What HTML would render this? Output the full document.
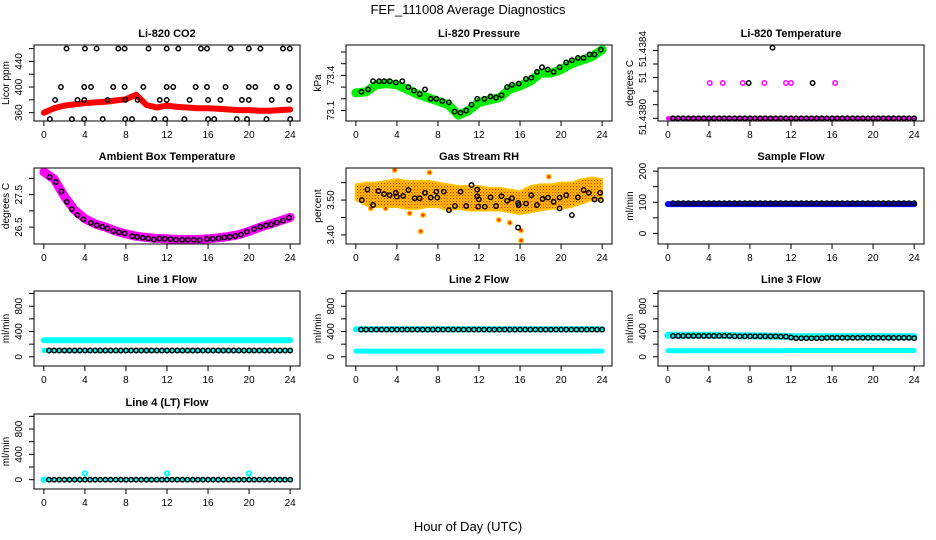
<!DOCTYPE html>
<html><head><meta charset="utf-8">
<style>
body{margin:0;background:#fff;}
svg{display:block;font-family:"Liberation Sans",Arial,sans-serif;}
</style></head>
<body>
<svg id="chart" width="936" height="540" viewBox="0 0 936 540" xmlns="http://www.w3.org/2000/svg">
<defs>
<pattern id="rhpat" width="3" height="3" patternUnits="userSpaceOnUse">
<rect width="3" height="3" fill="#ffd000"/>
<rect x="0" y="0" width="1.2" height="1.2" fill="#ff2000"/>
<rect x="1.5" y="1.5" width="1.2" height="1.2" fill="#ff6000"/>
</pattern>
</defs>
<text x="468" y="14" text-anchor="middle" font-size="13">FEF_111008  Average Diagnostics</text>
<text x="468" y="531" text-anchor="middle" font-size="13">Hour of Day (UTC)</text>
</svg>
<script>
// ---------- data ----------
const xTicks = [0,4,8,12,16,20,24];
const T48 = [0.5,1,1.5,2,2.5,3,3.5,4,4.5,5,5.5,6,6.5,7,7.5,8,8.5,9,9.5,10,10.5,11,11.5,12,12.5,13,13.5,14,14.5,15,15.5,16,16.5,17,17.5,18,18.5,19,19.5,20,20.5,21,21.5,22,22.5,23,23.5,24];
const H25 = [0,1,2,3,4,5,6,7,8,9,10,11,12,13,14,15,16,17,18,19,20,21,22,23,24];

// CO2
const co2BandVals = [360,367,371,373,375,376,377,379,381,388,372,368,371,369,368,367,367,366,365,364,364,363,363,364,365];
const co2Hours = [2.21,4.0,5.14,7.25,7.87,10.2,11.97,13.1,15.3,15.9,18.2,19.97,21.1,23.3,23.97,
 1.66,3.93,4.59,6.76,7.87,9.69,11.97,12.6,14.8,15.9,17.7,19.97,20.6,22.7,23.9,
 1.1,3.28,3.93,6.21,7.93,9.14,11.3,11.97,14.2,16.0,17.2,19.3,19.97,22.2,23.9,
 0.59,2.73,3.93,5.73,7.93,8.59,10.76,11.83,13.7,16.0,16.6,18.8,19.8,21.7,24.0];
const co2Vals = [460,460,460,460,460,460,460,460,460,460,460,460,460,460,460,
 400,400,400,400,400,400,400,400,400,400,400,400,400,400,400,
 380,380,380,380,380,380,380,380,380,380,380,380,380,380,380,
 350,350,350,350,350,350,350,350,350,350,350,350,350,350,350];

// Pressure
const presBandVals = [73.25,73.26,73.32,73.33,73.32,73.28,73.24,73.21,73.18,73.15,73.06,73.10,73.17,73.19,73.21,73.28,73.31,73.35,73.42,73.42,73.45,73.50,73.53,73.56,73.62];
const presHours = [0.55,1.2,1.68,2.27,2.75,3.3,3.89,4.53,5.12,5.67,6.22,6.74,7.29,7.84,8.42,9.07,9.62,10.2,10.75,11.27,11.82,12.53,13.12,13.67,14.19,14.74,15.22,15.87,16.58,17.1,17.65,18.14,18.69,19.27,19.85,20.5,21.05,21.64,22.19,22.77,23.25,23.87];
const presVals = [73.26,73.28,73.35,73.35,73.35,73.35,73.34,73.35,73.30,73.27,73.24,73.28,73.20,73.20,73.18,73.17,73.09,73.08,73.10,73.15,73.20,73.20,73.22,73.21,73.23,73.30,73.32,73.33,73.37,73.38,73.43,73.47,73.45,73.43,73.47,73.51,73.53,73.55,73.55,73.58,73.58,73.62];

// Li-820 temperature
const ltBandVals = [51.4380,51.4380,51.4380,51.4380,51.4380,51.4380,51.4380,51.4380,51.4380,51.4380,51.4380,51.4380,51.4380,51.4380,51.4380,51.4380,51.4380,51.4380,51.4380,51.4380,51.4380,51.4380,51.4380,51.4380,51.4380];
const ltBlack = [51.4380,51.4380,51.4380,51.4380,51.4380,51.4380,51.4380,51.4380,51.4380,51.4380,51.4380,51.4380,51.4380,51.4380,51.4380,51.4380,51.4380,51.4380,51.4380,51.4380,51.4380,51.4380,51.4380,51.4380,51.4380,51.4380,51.4380,51.4380,51.4380,51.4380,51.4380,51.4380,51.4380,51.4380,51.4380,51.4380,51.4380,51.4380,51.4380,51.4380,51.4380,51.4380,51.4380,51.4380,51.4380,51.4380,51.4380,51.4380];
const ltPinkHours = [4.09,5.35,7.30,9.41,11.51,12.0,16.3];
const ltPinkVals = [51.43826,51.43826,51.43826,51.43826,51.43826,51.43826,51.43826];
const ltExtraHours = [7.88,14.1,10.2];
const ltExtraVals = [51.43826,51.43826,51.43852];

// Ambient box temperature
const ambBandVals = [28.20,27.98,27.45,27.02,26.76,26.60,26.50,26.38,26.29,26.22,26.18,26.15,26.14,26.12,26.12,26.12,26.14,26.17,26.21,26.27,26.37,26.49,26.59,26.69,26.80];
const ambHours = [0.58,1.17,1.72,2.23,2.72,3.27,3.85,4.57,5.15,5.7,6.19,6.77,7.32,7.87,8.62,9.1,9.65,10.17,10.72,11.27,11.79,12.34,12.89,13.47,14.02,14.61,15.19,15.9,16.45,17.04,17.59,18.11,18.66,19.21,19.79,20.5,21.09,21.64,22.15,22.7,23.29,23.9];
const ambVals = [28.04,27.89,27.60,27.28,27.05,26.87,26.74,26.63,26.56,26.51,26.46,26.38,26.34,26.31,26.22,26.20,26.17,26.15,26.12,26.15,26.14,26.13,26.11,26.11,26.11,26.11,26.10,26.13,26.14,26.16,26.18,26.20,26.23,26.27,26.36,26.44,26.51,26.55,26.58,26.64,26.70,26.79];

// Gas stream RH
const rhUpper = [3.545,3.55,3.55,3.555,3.56,3.555,3.555,3.555,3.55,3.545,3.54,3.54,3.54,3.535,3.535,3.53,3.525,3.54,3.545,3.545,3.55,3.55,3.56,3.565,3.56];
const rhLower = [3.50,3.485,3.48,3.48,3.48,3.475,3.475,3.48,3.48,3.47,3.475,3.47,3.47,3.47,3.47,3.465,3.46,3.465,3.47,3.475,3.475,3.48,3.49,3.50,3.50];
const rhOutHours = [3.79,7.19,6.54,6.32,13.93,15.0,16.1,16.1,18.8,1.46,5.25,2.9];
const rhOutVals = [3.586,3.579,3.457,3.41,3.443,3.435,3.413,3.384,3.567,3.476,3.462,3.476];
const rhHours = [0.58,1.13,1.68,2.2,2.75,3.3,3.89,3.98,4.6,5.12,5.73,6.22,6.74,7.29,7.84,7.94,8.58,9.07,9.65,10.2,10.75,11.27,11.82,11.82,11.92,11.98,12.57,13.12,13.67,14.19,14.74,15.22,15.81,15.87,15.81,16.58,17.1,17.65,18.2,18.72,19.27,19.85,19.85,20.5,21.05,21.64,22.19,22.7,23.25,23.81,23.87];
const rhVals = [3.500,3.530,3.486,3.526,3.517,3.514,3.521,3.510,3.512,3.529,3.505,3.505,3.521,3.507,3.524,3.507,3.524,3.471,3.483,3.524,3.483,3.543,3.530,3.511,3.481,3.502,3.481,3.508,3.483,3.511,3.498,3.505,3.492,3.486,3.421,3.490,3.514,3.486,3.503,3.507,3.495,3.507,3.476,3.514,3.457,3.508,3.529,3.521,3.502,3.521,3.500];

// Flows
const sampleBand = [94,94,94,94,94,94,94,94,94,94,94,94,94,94,94,94,94,94,94,94,94,94,94,94,94];
const sampleBlack = [97,97,97,97,97,97,97,97,97,97,97,97,97,97,97,97,97,97,97,97,97,97,97,97,97,97,97,97,97,97,97,97,97,97,97,97,97,97,97,97,97,97,97,97,97,97,97,97];
const line1Upper = [262,262,262,262,262,262,262,262,262,262,262,262,262,262,262,262,262,262,262,262,262,262,262,262,262];
const line1Lower = [100,100,100,100,100,100,100,100,100,100,100,100,100,100,100,100,100,100,100,100,100,100,100,100,100];
const line1Black = [100,100,100,100,100,100,100,100,100,100,100,100,100,100,100,100,100,100,100,100,100,100,100,100,100,100,100,100,100,100,100,100,100,100,100,100,100,100,100,100,100,100,100,100,100,100,100,100];
const line2Upper = [435,435,435,435,435,435,435,435,435,435,435,435,435,435,435,435,435,435,435,435,435,435,435,435,435];
const line2Lower = [90,90,90,90,90,90,90,90,90,90,90,90,90,90,90,90,90,90,90,90,90,90,90,90,90];
const line2Black = [430,430,430,430,430,430,430,430,430,430,430,430,430,430,430,430,430,430,430,430,430,430,430,430,430,430,430,430,430,430,430,430,430,430,430,430,430,430,430,430,430,430,430,430,430,430,430,430];
const line3Upper = [340,340,340,340,340,338,336,334,332,330,328,326,320,318,318,318,318,318,318,318,318,318,318,318,318];
const line3Lower = [95,95,95,95,95,95,95,95,95,95,95,95,100,100,100,100,100,100,100,100,100,100,100,100,100];
const line3Black = [330,330,330,330,330,330,330,330,330,330,330,330,325,325,325,325,325,325,325,325,325,320,320,305,295,295,295,295,295,295,300,300,300,300,300,300,300,300,300,300,300,300,300,300,300,300,300,295];
const line4Band = [0,0,0,0,0,0,0,0,0,0,0,0,0,0,0,0,0,0,0,0,0,0,0,0,0];
const line4Black = [0,0,0,0,0,0,0,0,0,0,0,0,0,0,0,0,0,0,0,0,0,0,0,0,0,0,0,0,0,0,0,0,0,0,0,0,0,0,0,0,0,0,0,0,0,0,0,0];
const line4CyanHours = [0,4,12,20];
const line4CyanVals = [0,100,100,100];

// ---------- drawing ----------
const NS = "http://www.w3.org/2000/svg";
const svg = document.getElementById("chart");
function mk(tag, attrs, parent){
  const e = document.createElementNS(NS, tag);
  for (const k in attrs) e.setAttribute(k, attrs[k]);
  (parent||svg).appendChild(e);
  return e;
}
const W = 266;
function panel(cfg){
  const g = mk("g", {});
  
  
  const L = cfg.left, Tp = cfg.top, H = cfg.h;
  const xs = h => L + 9.85 + h * (W - 19.7) / 24;
  const ys = v => Tp + H - (v - cfg.ylim[0]) / (cfg.ylim[1] - cfg.ylim[0]) * H;
  const t = mk("text", {x: L + W/2, y: Tp - 8, "text-anchor":"middle", "font-size":"11", "font-weight":"bold"}, g);
  t.textContent = cfg.title;
  
  
  const clip = mk("g", {}, g);
  cfg.layers.forEach(ly => {
    if (ly.type === "band") {
      const pts = ly.hours.map((h,i) => xs(h).toFixed(1) + "," + ys(ly.vals[i]).toFixed(1)).join(" ");
      const pl = mk("polyline", {points: pts, fill:"none", stroke: ly.color, "stroke-width": ly.width, "stroke-linejoin":"round", "stroke-linecap":"round"}, clip);
      
      
    } else if (ly.type === "area") {
      const up = ly.hours.map((h,i) => xs(h).toFixed(1) + "," + ys(ly.upper[i]).toFixed(1));
      const lo = ly.hours.map((h,i) => xs(h).toFixed(1) + "," + ys(ly.lower[i]).toFixed(1)).reverse();
      const pg = mk("polygon", {points: up.concat(lo).join(" "), fill: ly.fill, stroke:"#ffc000", "stroke-width":"2", "stroke-linejoin":"round"}, clip);
      
      
    } else {
      ly.hours.forEach((h,i) => {
        const c = mk("circle", {cx: xs(h).toFixed(1), cy: ys(ly.vals[i]).toFixed(1), r: ly.r || 2.2, fill: ly.fill || "none", stroke: ly.color, "stroke-width": ly.sw || 1.5}, clip);
        
        
      });
    }
  });
  const box = mk("rect", {x: L, y: Tp, width: W, height: H, fill:"none", stroke:"#000", "stroke-width":"1"}, g);
  
  
  xTicks.forEach(v => {
    mk("line", {x1: xs(v), x2: xs(v), y1: Tp+H, y2: Tp+H+5, stroke:"#000"}, g);
    const tx = mk("text", {x: xs(v), y: Tp+H+17, "text-anchor":"middle", "font-size":"10"}, g);
    tx.textContent = v;
    
    
  });
  mk("line", {x1: xs(0), x2: xs(24), y1: Tp+H, y2: Tp+H, stroke:"#000"}, g);
  cfg.yticks.forEach(v => mk("line", {x1: L-5, x2: L, y1: ys(v), y2: ys(v), stroke:"#000"}, g));
  cfg.ylabels.forEach((lab, i) => {
    const yy = ys(cfg.ylabelPos[i]);
    const tx = mk("text", {x: L-12, y: yy, "text-anchor":"middle", "font-size":"10", transform:"rotate(-90 " + (L-12) + " " + yy + ")"}, g);
    tx.textContent = lab;
    
    
  });
  const yc = Tp + H/2;
  const yt = mk("text", {x: L-25, y: yc, "text-anchor":"middle", "font-size":"10", transform:"rotate(-90 " + (L-25) + " " + yc + ")"}, g);
  yt.textContent = cfg.ytitle;
  
  
}

const C = [34, 346, 658];
const R = [45, 168, 291, 414];
const flowTicks = [0,200,400,600,800,1000];

panel({name:"co2-panel", title:"Li-820 CO2", left:C[0], top:R[0], h:76, ylim:[347,465.6],
  yticks:[360,380,400,420,440,460], ylabels:["360","400","440"], ylabelPos:[360,400,440], ytitle:"Licor ppm",
  layers:[{type:"band", hours:H25, vals:co2BandVals, color:"#ff0000", width:6},
          {type:"pts", hours:co2Hours, vals:co2Vals, color:"#000"}]});
panel({name:"pressure-panel", title:"Li-820 Pressure", left:C[1], top:R[0], h:76, ylim:[73.01,73.66],
  yticks:[73.1,73.2,73.3,73.4,73.5,73.6], ylabels:["73.1","73.4"], ylabelPos:[73.1,73.4], ytitle:"kPa",
  layers:[{type:"band", hours:H25, vals:presBandVals, color:"#00ee00", width:9},
          {type:"pts", hours:presHours, vals:presVals, color:"#000"}]});
panel({name:"li820-temperature-panel", title:"Li-820 Temperature", left:C[2], top:R[0], h:76, ylim:[51.43798,51.43854],
  yticks:[51.4380,51.4381,51.4382,51.4383,51.4384,51.4385], ylabels:["51.4380","51","51.4384"], ylabelPos:[51.43801,51.4383,51.43851], ytitle:"degrees C",
  layers:[{type:"band", hours:H25, vals:ltBandVals, color:"#ff00ff", width:4},
          {type:"pts", hours:T48, vals:ltBlack, color:"#000"},
          {type:"pts", hours:ltPinkHours, vals:ltPinkVals, color:"#ff00ff"},
          {type:"pts", hours:ltExtraHours, vals:ltExtraVals, color:"#000"}]});
panel({name:"ambient-temperature-panel", title:"Ambient Box Temperature", left:C[0], top:R[1], h:76, ylim:[25.98,28.32],
  yticks:[26.5,27,27.5,28], ylabels:["26.5","27.5"], ylabelPos:[26.5,27.5], ytitle:"degrees C",
  layers:[{type:"band", hours:H25, vals:ambBandVals, color:"#ff00ff", width:9},
          {type:"pts", hours:ambHours, vals:ambVals, color:"#000"}]});
panel({name:"rh-panel", title:"Gas Stream RH", left:C[1], top:R[1], h:76, ylim:[3.374,3.592],
  yticks:[3.40,3.45,3.50,3.55], ylabels:["3.40","3.50"], ylabelPos:[3.40,3.50], ytitle:"percent",
  layers:[{type:"area", hours:H25, upper:rhUpper, lower:rhLower, fill:"url(#rhpat)"},
          {type:"pts", hours:rhOutHours, vals:rhOutVals, color:"#ffc000", fill:"#ff3000", r:2.2, sw:1.4},
          {type:"pts", hours:rhHours, vals:rhVals, color:"#000"}]});
panel({name:"sample-flow-panel", title:"Sample Flow", left:C[2], top:R[1], h:76, ylim:[-34,210],
  yticks:[0,50,100,150,200], ylabels:["0","100","200"], ylabelPos:[0,100,200], ytitle:"ml/min",
  layers:[{type:"band", hours:H25, vals:sampleBand, color:"#0000ff", width:6},
          {type:"pts", hours:T48, vals:sampleBlack, color:"#000"}]});
panel({name:"line1-flow-panel", title:"Line 1 Flow", left:C[0], top:R[2], h:75, ylim:[-145,1040],
  yticks:flowTicks, ylabels:["0","400","800"], ylabelPos:[0,400,800], ytitle:"ml/min",
  layers:[{type:"band", hours:H25, vals:line1Upper, color:"#00ffff", width:6},
          {type:"band", hours:H25, vals:line1Lower, color:"#00ffff", width:5},
          {type:"pts", hours:T48, vals:line1Black, color:"#000"}]});
panel({name:"line2-flow-panel", title:"Line 2 Flow", left:C[1], top:R[2], h:75, ylim:[-145,1040],
  yticks:flowTicks, ylabels:["0","400","800"], ylabelPos:[0,400,800], ytitle:"ml/min",
  layers:[{type:"band", hours:H25, vals:line2Upper, color:"#00ffff", width:6},
          {type:"band", hours:H25, vals:line2Lower, color:"#00ffff", width:5},
          {type:"pts", hours:T48, vals:line2Black, color:"#000"}]});
panel({name:"line3-flow-panel", title:"Line 3 Flow", left:C[2], top:R[2], h:75, ylim:[-145,1040],
  yticks:flowTicks, ylabels:["0","400","800"], ylabelPos:[0,400,800], ytitle:"ml/min",
  layers:[{type:"band", hours:H25, vals:line3Upper, color:"#00ffff", width:7},
          {type:"band", hours:H25, vals:line3Lower, color:"#00ffff", width:5},
          {type:"pts", hours:T48, vals:line3Black, color:"#000"}]});
panel({name:"line4-flow-panel", title:"Line 4 (LT) Flow", left:C[0], top:R[3], h:75, ylim:[-147,1037],
  yticks:flowTicks, ylabels:["0","400","800"], ylabelPos:[0,400,800], ytitle:"ml/min",
  layers:[{type:"band", hours:H25, vals:line4Band, color:"#00ffff", width:4},
          {type:"pts", hours:line4CyanHours, vals:line4CyanVals, color:"#00ffff", sw:2},
          {type:"pts", hours:T48, vals:line4Black, color:"#000"}]});
</script>
</body></html>
